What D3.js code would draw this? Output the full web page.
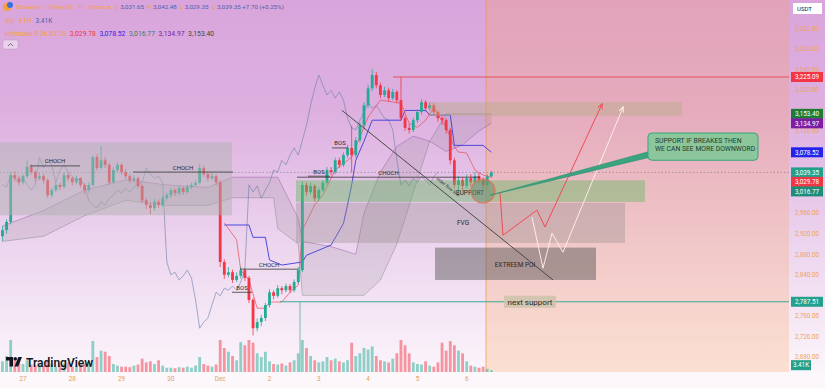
<!DOCTYPE html>
<html>
<head>
<meta charset="utf-8">
<script src="https://cdn.jsdelivr.net/npm/d3@7"></script>
<style>
html, body { margin: 0; padding: 0; background: #faf5fa; }
svg { display: block; font-family: Roboto, "Noto Sans", sans-serif; }
</style>
</head>
<body>
<div id="chart"></div>
<script>
// ---- data ----
// 2h candles, first one Nov 26 14:00
var candleStart = new Date(2025, 10, 26, 14);
// [open, high, low, close]
var ohlc = [
  [2915,2935,2905,2927],[2927,2948,2920,2943],[2943,3040,2938,3034],[3034,3041,3022,3028],[3028,3033,3014,3020],
  [3020,3036,3016,3032],[3032,3062,3028,3050],[3050,3055,3035,3040],[3040,3044,3022,3028],[3028,3038,3024,3032],
  [3032,3036,3018,3024],[3024,3028,2990,2995],[2995,3010,2991,3005],[3005,3020,3001,3015],[3015,3019,3005,3011],
  [3011,3040,3008,3034],[3034,3038,3022,3028],[3028,3031,3014,3020],[3020,3033,3016,3028],[3028,3030,3010,3015],
  [3015,3018,2998,3005],[3005,3020,3000,3015],[3015,3073,3012,3069],[3069,3075,3043,3048],[3048,3091,3045,3063],
  [3063,3070,3048,3054],[3054,3058,3015,3020],[3020,3050,3017,3044],[3044,3060,3040,3054],[3054,3057,3035,3040],
  [3040,3046,3027,3032],[3032,3036,3019,3024],[3024,3034,3020,3028],[3028,3031,3008,3013],[3013,3016,2980,2985],
  [2985,2990,2968,2976],[2976,2982,2958,2970],[2970,2988,2965,2982],[2982,2986,2970,2976],[2976,2994,2972,2989],
  [2989,3000,2984,2995],[2995,3010,2990,3005],[3005,3008,2993,2999],[2999,3014,2995,3009],[3009,3012,2996,3001],
  [3001,3016,2998,3011],[3011,3020,3007,3015],[3015,3024,3012,3019],[3019,3056,3016,3048],[3048,3052,3031,3036],
  [3036,3040,3022,3028],[3028,3038,3024,3032],[3032,3035,3015,3020],[3020,3024,2855,2865],[2865,2870,2832,2840],
  [2840,2855,2835,2845],[2845,2850,2824,2830],[2830,2845,2826,2838],[2838,2856,2833,2849],[2849,2852,2828,2834],
  [2834,2838,2785,2791],[2791,2795,2722,2736],[2736,2755,2730,2748],[2748,2762,2740,2756],[2756,2786,2750,2781],
  [2781,2812,2776,2806],[2806,2810,2792,2799],[2799,2820,2795,2814],[2814,2818,2802,2810],[2810,2823,2806,2818],
  [2818,2822,2804,2810],[2810,2831,2806,2826],[2826,2855,2822,2849],[2849,3022,2845,3015],[3015,3020,2994,3001],
  [3001,3019,2997,3013],[3013,3016,2982,2989],[2989,3010,2984,3005],[3005,3024,3001,3019],[3019,3050,3015,3044],
  [3044,3050,3034,3040],[3040,3068,3036,3063],[3063,3068,3048,3054],[3054,3078,3050,3073],[3073,3093,3068,3087],
  [3087,3130,3040,3073],[3073,3108,3068,3102],[3102,3137,3098,3131],[3131,3176,3126,3170],[3170,3210,3165,3203],
  [3203,3240,3198,3229],[3229,3235,3203,3209],[3209,3214,3184,3190],[3190,3206,3186,3199],[3199,3204,3178,3184],
  [3184,3202,3180,3196],[3196,3200,3174,3180],[3180,3225,3140,3145],[3145,3150,3120,3126],[3126,3134,3115,3122],
  [3122,3146,3118,3141],[3141,3162,3136,3157],[3157,3182,3152,3176],[3176,3180,3158,3164],[3164,3176,3160,3170],
  [3170,3174,3150,3157],[3157,3160,3138,3145],[3145,3150,3132,3141],[3141,3145,3115,3122],[3122,3126,3055,3063],
  [3063,3068,3008,3015],[3015,3032,3000,3024],[3024,3030,3004,3013],[3013,3035,3008,3028],[3028,3036,3012,3020],
  [3020,3040,3016,3032],[3032,3038,3018,3024],[3024,3030,3008,3015],[3015,3036,3012,3031.65],[3031.65,3042.48,3029.35,3039.35]
];
// volume in K
var volumes = [
  20,30,60,25,18,15,22,14,12,15, 12,20,14,10,12,16,18,10,12,14,
  15,18,58,28,40,38,30,15,12,10, 10,9,12,14,25,18,20,15,22,12,
  8,8,7,9,8,10,8,12,28,15, 12,10,14,60,45,38,30,22,56,50,
  60,55,35,28,38,20,15,14,16,12, 18,22,35,60,45,30,22,18,20,28,
  22,25,20,18,22,55,30,35,45,42, 48,30,22,20,18,25,35,60,50,35,
  18,15,14,20,12,10,18,55,40,58, 50,40,35,20,12,10,8,10,6,3.41
];

// ichimoku lines, [candle index, price]
var tenkan = [[54,2941],[57,2908],[58,2849],[60,2830],[62,2775],[64,2775],[65,2787],[68,2787],[70,2806],[72,2820],
  [73,2927],[76,2976],[78,2995],[81,3044],[85,3069],[87,3108],[89,3147],[92,3180],[97,3174],[99,3135],[101,3127],
  [103,3141],[105,3166],[108,3127],[110,3089],[111,3079],[113,3077],[115,3044],[117,3034],[119,3029.78]];
var kijun = [[54,2937],[60,2937],[61,2913],[64,2913],[65,2869],[68,2859],[73,2865],[74,2878],[80,2898],[83,2940],
  [84,2976],[85,3015],[86,3063],[88,3100],[90,3141],[97,3141],[98,3160],[103,3160],[104,3151],[109,3151],[110,3092],
  [117,3092],[119,3078.52]];
var cloudIdx = [0,10,20,30,40,50,56,66,67,72,73,80,86,88,92,96,100,104,108,112,116,119];
var spanA = [2935,2965,3005,3025,3015,3010,3030,3030,3030,2950,2905,2895,2880,2960,3040,3090,3110,3100,3080,3093,3120,3134.97];
var spanB = [2905,2915,2955,2985,2975,2975,2990,2990,2930,2900,2800,2800,2800,2800,2830,2900,3000,3100,3153.4,3153.4,3153.4,3153.4];
var laggingShift = 13;

// drawings
var zoneNames = ["range", "top", "green", "fvg", "poi"];
var zoneT0 = ["2025-11-26T08:00","2025-12-05T06:00","2025-12-02T12:54","2025-12-02T12:54","2025-12-05T08:34"];
var zoneT1 = ["2025-12-01T05:44","2025-12-10T08:49","2025-12-09T14:48","2025-12-09T05:04","2025-12-08T14:57"];
var zoneTop = [3098, 3176, 3024, 2980, 2893];
var zoneBottom = [2956, 3149, 2982, 2902, 2830];

var structLabels = ["CHOCH","CHOCH","BOS","CHOCH","BOS","BOS","CHOCH"];
var structT0 = ["2025-11-27T03:24","2025-11-29T05:33","2025-12-01T05:44","2025-12-01T09:39","2025-12-02T18:44","2025-12-03T06:26","2025-12-02T13:23"];
var structT1 = ["2025-11-28T03:45","2025-12-01T06:14","2025-12-01T15:29","2025-12-02T13:52","2025-12-03T05:27","2025-12-03T14:13","2025-12-06T06:29"];
var structPrice = [3052, 3040, 2806, 2851, 3032, 3087, 3030];

var resistance = {t0: "2025-12-04T12:07", price: 3225.09};
var nextSupport = {t0: "2025-12-02T05:07", tVert: "2025-12-02T14:51", price: 2787.51};
var trendLine = [["2025-12-03T11:18", 3160], ["2025-12-07T18:01", 2830]];
var redPath = [["2025-12-06T16:12",3001],["2025-12-06T17:40",2917],["2025-12-07T10:13",2966],["2025-12-07T14:07",2933],["2025-12-08T17:51",3172]];
var whitePath = [["2025-12-07T07:48",2952],["2025-12-07T13:09",2853],["2025-12-07T17:31",2921],["2025-12-07T22:52",2884],["2025-12-09T04:05",3166]];
var callout = {t0: "2025-12-09T16:15", t1: "2025-12-11T21:49", top: 3116, bottom: 3063,
  from: ["2025-12-06T11:21", 2995], lines: ["SUPPORT IF BREAKES THEN", "WE CAN SEE MORE DOWNWORD"]};
var supportCircle = ["2025-12-06T07:57", 3003];
var futureStart = "2025-12-06T09:24";
var textNotes = [
  ["FVG", "2025-12-05T22:12", 2941],
  ["EXTREEM POI", "2025-12-06T23:31", 2861],
  ["SUPPORT", "2025-12-06T01:36", 3001]
];

var priceTicks = d3.range(2680, 3321, 40);
var dayTicks = ["2025-11-27","2025-11-28","2025-11-29","2025-11-30","2025-12-01","2025-12-02","2025-12-03","2025-12-04","2025-12-05","2025-12-06"];
var dayLabels = ["27","28","29","30","Dec","2","3","4","5","6"];
var tagValues = [3225.09, 3153.40, 3134.97, 3078.52, 3039.35, 3029.78, 3016.77, 2787.51];
var tagColors = ["#f23645", "#1e7d32", "#7b1fa2", "#2424e8", "#22a08a", "#f23645", "#1f8c78", "#23a18c"];
var lastVolume = 3.41;

// ---- setup ----
var W = 825, H = 388, plotR = 789, plotB = 372;
var parse = function(s){ return new Date(s); };
var candleTime = function(i){ return d3.timeHour.offset(candleStart, 2*i); };

var x = d3.scaleTime()
    .domain([new Date(2025,10,27), new Date(2025,11,6)])
    .range([23, 466.7]);
var y = d3.scaleLinear().domain([2680, 3225.09]).range([357, 77]);
var yVol = d3.scaleLinear().domain([0, 60]).range([plotB, 340]);
var fmt = d3.format(",.2f");

var svg = d3.select("#chart").append("svg")
    .attr("width", W).attr("height", H);

var defs = svg.append("defs");
var grad = defs.append("linearGradient").attr("id","bg")
    .attr("x1",0).attr("y1",0).attr("x2",0).attr("y2",1);
grad.append("stop").attr("offset","0%").attr("stop-color","#d9a5dc");
grad.append("stop").attr("offset","30%").attr("stop-color","#ddb0e0");
grad.append("stop").attr("offset","65%").attr("stop-color","#ecd4ee");
grad.append("stop").attr("offset","100%").attr("stop-color","#fbf5fb");
defs.append("clipPath").attr("id","plot")
  .append("rect").attr("x",0).attr("y",0).attr("width",plotR).attr("height",plotB);

svg.append("rect").attr("width",W).attr("height",plotB).attr("fill","url(#bg)");
svg.append("rect").attr("y",plotB).attr("width",W).attr("height",H-plotB).attr("fill","#fbf7fb");

var g = svg.append("g").attr("clip-path","url(#plot)");

// future (orange) area
g.append("rect")
  .attr("x", x(parse(futureStart))).attr("y",0)
  .attr("width", plotR - x(parse(futureStart))).attr("height", plotB)
  .attr("fill","rgba(255,160,80,0.24)");
g.append("line")
  .attr("x1", x(parse(futureStart))).attr("x2", x(parse(futureStart)))
  .attr("y1",0).attr("y2",plotB)
  .attr("stroke","rgba(240,150,70,0.7)").attr("stroke-width",1);

// volume
g.selectAll(".vol").data(volumes).enter().append("rect")
  .attr("x", function(d,i){ return x(candleTime(i)) - 1.4; })
  .attr("y", function(d){ return yVol(d); })
  .attr("width", 2.8)
  .attr("height", function(d){ return plotB - yVol(d); })
  .attr("fill", function(d,i){ return ohlc[i][3] >= ohlc[i][0] ? "rgba(34,171,148,0.5)" : "rgba(242,54,69,0.5)"; });

// cloud
var cloud = cloudIdx.map(function(k,j){ return {t: candleTime(k), a: spanA[j], b: spanB[j]}; });
g.append("path").datum(cloud)
  .attr("d", d3.area().x(function(d){ return x(d.t); })
    .y0(function(d){ return y(d.a); }).y1(function(d){ return y(d.b); }))
  .attr("fill","rgba(120,115,120,0.15)");
g.append("path").datum(cloud)
  .attr("d", d3.line().x(function(d){ return x(d.t); }).y(function(d){ return y(d.a); }))
  .attr("fill","none").attr("stroke","rgba(140,70,160,0.5)").attr("stroke-width",0.8);
g.append("path").datum(cloud)
  .attr("d", d3.line().x(function(d){ return x(d.t); }).y(function(d){ return y(d.b); }))
  .attr("fill","none").attr("stroke","rgba(90,100,90,0.4)").attr("stroke-width",0.8);

// lagging span = closes moved back
var lag = ohlc.slice(laggingShift).map(function(d,i){ return [i, d[3]]; });
var idxLine = d3.line().x(function(d){ return x(candleTime(d[0])); }).y(function(d){ return y(d[1]); });
g.append("path").datum(lag).attr("d", idxLine)
  .attr("fill","none").attr("stroke","rgba(105,125,165,0.75)").attr("stroke-width",0.8);
g.append("path").datum(kijun).attr("d", idxLine)
  .attr("fill","none").attr("stroke","#3b3bd8").attr("stroke-width",0.9);
g.append("path").datum(tenkan).attr("d", idxLine)
  .attr("fill","none").attr("stroke","rgba(235,70,80,0.85)").attr("stroke-width",0.8);

// candles
var c = g.selectAll(".candle").data(ohlc).enter().append("g");
c.append("line")
  .attr("x1", function(d,i){ return x(candleTime(i)); })
  .attr("x2", function(d,i){ return x(candleTime(i)); })
  .attr("y1", function(d){ return y(d[1]); })
  .attr("y2", function(d){ return y(d[2]); })
  .attr("stroke", function(d){ return d[3] >= d[0] ? "#22ab94" : "#f23645"; })
  .attr("stroke-width", 0.8);
c.append("rect")
  .attr("x", function(d,i){ return x(candleTime(i)) - 1.4; })
  .attr("y", function(d){ return y(Math.max(d[0], d[3])); })
  .attr("width", 2.8)
  .attr("height", function(d){ return Math.max(0.8, Math.abs(y(d[0]) - y(d[3]))); })
  .attr("fill", function(d){ return d[3] >= d[0] ? "#22ab94" : "#f23645"; });

// last price dotted line
var last = ohlc[ohlc.length-1][3];
g.append("line").attr("x1",0).attr("x2",plotR).attr("y1",y(last)).attr("y2",y(last))
  .attr("stroke","rgba(90,90,110,0.55)").attr("stroke-width",0.8).attr("stroke-dasharray","1.5,2");

// zones
var zoneFill = {
  range: "rgba(178,178,178,0.5)",
  top: "rgba(185,170,135,0.45)",
  green: "rgba(105,185,100,0.45)",
  fvg: "rgba(150,140,140,0.35)",
  poi: "rgba(80,80,80,0.45)"
};
zoneNames.forEach(function(n,j){
  g.append("rect")
    .attr("x", x(parse(zoneT0[j])))
    .attr("y", y(zoneTop[j]))
    .attr("width", x(parse(zoneT1[j])) - x(parse(zoneT0[j])))
    .attr("height", y(zoneBottom[j]) - y(zoneTop[j]))
    .attr("fill", zoneFill[n]);
});

// structure lines (CHOCH / BOS)
structLabels.forEach(function(l,j){
  var x0 = x(parse(structT0[j])), x1 = x(parse(structT1[j])), yy = y(structPrice[j]);
  g.append("line").attr("x1",x0).attr("x2",x1).attr("y1",yy).attr("y2",yy)
    .attr("stroke","#3a3a3a").attr("stroke-width",0.8);
  g.append("text").attr("x",(x0+x1)/2).attr("y",yy-2.5)
    .attr("text-anchor","middle").attr("font-size",6).attr("fill","#2a2a2a").text(l);
});

// resistance / next support
g.append("line").attr("x1",x(parse(resistance.t0))).attr("x2",plotR)
  .attr("y1",y(resistance.price)).attr("y2",y(resistance.price))
  .attr("stroke","#e8505a").attr("stroke-width",1);
g.append("line").attr("x1",x(parse(nextSupport.t0))).attr("x2",plotR)
  .attr("y1",y(nextSupport.price)).attr("y2",y(nextSupport.price))
  .attr("stroke","#3aa896").attr("stroke-width",1.2);
g.append("line").attr("x1",x(parse(nextSupport.tVert))).attr("x2",x(parse(nextSupport.tVert)))
  .attr("y1",y(nextSupport.price)).attr("y2",plotB)
  .attr("stroke","rgba(58,168,150,0.7)").attr("stroke-width",1);
var nsx = x(parse("2025-12-07T06:49"));
g.append("rect").attr("x",nsx-26).attr("y",y(nextSupport.price)-6).attr("width",52).attr("height",12)
  .attr("fill","rgba(205,195,170,0.85)");
g.append("text").attr("x",nsx).attr("y",y(nextSupport.price)+3)
  .attr("text-anchor","middle").attr("font-size",8).attr("fill","#2a2a2a").text("next support");

// trend line
var pxy = function(p){ return [x(parse(p[0])), y(p[1])]; };
var tl = trendLine.map(pxy);
g.append("line").attr("x1",tl[0][0]).attr("y1",tl[0][1]).attr("x2",tl[1][0]).attr("y2",tl[1][1])
  .attr("stroke","#4a4a4a").attr("stroke-width",1);
var ang = Math.atan2(tl[1][1]-tl[0][1], tl[1][0]-tl[0][0]) * 180 / Math.PI;
var tlx = x(parse("2025-12-05T14:24")), tly = y(3009);
g.append("text").attr("transform","translate("+tlx+","+tly+") rotate("+ang+")")
  .attr("text-anchor","middle").attr("font-size",4.5).attr("fill","#333").text("order flow line");

// notes
textNotes.forEach(function(t){
  g.append("text").attr("x", x(parse(t[1]))).attr("y", y(t[2])+2.5)
    .attr("text-anchor","middle").attr("font-size",6.5).attr("fill","#2a2a2a").text(t[0]);
});

// support circle
var sc = pxy(supportCircle);
g.append("circle").attr("cx",sc[0]).attr("cy",sc[1]).attr("r",12)
  .attr("fill","rgba(110,135,110,0.5)").attr("stroke","rgba(235,110,80,0.85)").attr("stroke-width",1.2);

// projection arrows
defs.append("marker").attr("id","arR").attr("viewBox","0 0 10 10").attr("refX",8).attr("refY",5)
  .attr("markerWidth",6).attr("markerHeight",6).attr("orient","auto")
  .append("path").attr("d","M0,1 L9,5 L0,9").attr("fill","none").attr("stroke","#f04a55").attr("stroke-width",1.5);
defs.append("marker").attr("id","arW").attr("viewBox","0 0 10 10").attr("refX",8).attr("refY",5)
  .attr("markerWidth",6).attr("markerHeight",6).attr("orient","auto")
  .append("path").attr("d","M0,1 L9,5 L0,9").attr("fill","none").attr("stroke","#fff4ec").attr("stroke-width",1.5);
var pLine = d3.line();
g.append("path").attr("d", pLine(redPath.map(pxy))).attr("fill","none")
  .attr("stroke","#f04a55").attr("stroke-width",1).attr("marker-end","url(#arR)");
g.append("path").attr("d", pLine(whitePath.map(pxy))).attr("fill","none")
  .attr("stroke","rgba(255,244,236,0.9)").attr("stroke-width",1).attr("marker-end","url(#arW)");

// callout
var cx0 = x(parse(callout.t0)), cx1 = x(parse(callout.t1));
var cy0 = y(callout.top), cy1 = y(callout.bottom);
var cf = pxy(callout.from);
g.append("path")
  .attr("d","M"+cf[0]+","+cf[1]+" L"+(cx0+2)+","+(cy1-9)+" L"+(cx0+2)+","+(cy1-3)+" Z")
  .attr("fill","#3aa37f").attr("stroke","#2f9070").attr("stroke-width",0.6);
g.append("rect").attr("x",cx0).attr("y",cy0).attr("width",cx1-cx0).attr("height",cy1-cy0)
  .attr("rx",4).attr("fill","#8cc79c").attr("stroke","#3aa37f").attr("stroke-width",1);
callout.lines.forEach(function(l,j){
  g.append("text").attr("x",cx0+7).attr("y",cy0+10+j*8)
    .attr("font-size",6.8).attr("fill","#1d3b2c").text(l);
});

// ---- price axis ----
var tagY = tagValues.map(function(v){ return y(v); });
for (var k = 1; k < tagY.length; k++) {
  if (tagY[k] < tagY[k-1] + 9.5) tagY[k] = tagY[k-1] + 9.5;
}
var volTagY = yVol(lastVolume) - 5;
var busy = tagY.concat([volTagY]);
priceTicks.forEach(function(p){
  var yy = y(p);
  var hidden = busy.some(function(t){ return Math.abs(t - yy) < 7; });
  if (hidden || yy < 8) return;
  svg.append("text").attr("x",807).attr("y",yy+2.3).attr("text-anchor","middle")
    .attr("font-size",6.3).attr("fill","#eea457").text(fmt(p));
});
tagValues.forEach(function(v,j){
  svg.append("rect").attr("x",791).attr("y",tagY[j]-5).attr("width",32).attr("height",10)
    .attr("fill",tagColors[j]);
  svg.append("text").attr("x",807).attr("y",tagY[j]+2.3).attr("text-anchor","middle")
    .attr("font-size",6.3).attr("fill","#fff").text(fmt(v));
});
svg.append("rect").attr("x",791).attr("y",volTagY-5).attr("width",20).attr("height",10).attr("fill","#22a08a");
svg.append("text").attr("x",801).attr("y",volTagY+2.3).attr("text-anchor","middle")
  .attr("font-size",6.3).attr("fill","#fff").text(lastVolume + "K");
svg.append("rect").attr("x",793).attr("y",3).attr("width",29).attr("height",11).attr("fill","#fff");
svg.append("text").attr("x",797).attr("y",10.5).attr("font-size",6).attr("fill","#222").text("USDT");

// ---- time axis ----
dayTicks.forEach(function(d,j){
  svg.append("text").attr("x", x(new Date(d+"T00:00"))).attr("y", 381)
    .attr("text-anchor","middle").attr("font-size",6.3).attr("fill","#e6a052").text(dayLabels[j]);
});

// ---- legend ----
var lg = svg.append("g");
lg.append("circle").attr("cx",7).attr("cy",7).attr("r",4).attr("fill","#f5a03c");
lg.append("circle").attr("cx",10).attr("cy",5).attr("r",3).attr("fill","#3a6fd8");
var row1 = lg.append("text").attr("x",16).attr("y",9).attr("font-size",6.2);
[["Ethereum / TetherUS · 1h · Binance","#f5a03c"],["  O ","#f5a03c"],["3,031.65","#4c5fa8"],["  H ","#f5a03c"],["3,042.48","#4c5fa8"],
 ["  L ","#f5a03c"],["3,029.35","#4c5fa8"],["  C ","#f5a03c"],["3,039.35","#4c5fa8"],[" +7.70 (+0.25%)","#4c5fa8"]]
  .forEach(function(s){ row1.append("tspan").attr("fill",s[1]).attr("xml:space","preserve").text(s[0]); });
var row2 = lg.append("text").attr("x",5).attr("y",23).attr("font-size",6.5);
row2.append("tspan").attr("fill","#f5a03c").text("Vol · ETH");
row2.append("tspan").attr("dx",4).attr("fill","#4c5fa8").text("3.41K");
var row3 = lg.append("text").attr("x",5).attr("y",36).attr("font-size",6.8);
row3.append("tspan").attr("fill","#f5a03c").text("Ichimoku 9 26 52 26");
[["3,029.78","#f23645"],["3,078.52","#2424e8"],["3,016.77","#3d7a70"],["3,134.97","#7b1fa2"],["3,153.40","#3a4a3a"]]
  .forEach(function(s){ row3.append("tspan").attr("dx",3.5).attr("fill",s[1]).text(s[0]); });
lg.append("rect").attr("x",3).attr("y",40).attr("width",15).attr("height",9).attr("rx",1.5)
  .attr("fill","rgba(255,255,255,0.45)").attr("stroke","rgba(150,150,170,0.6)").attr("stroke-width",0.6);
lg.append("path").attr("d","M8,46 L10.5,43.5 L13,46").attr("fill","none").attr("stroke","#555").attr("stroke-width",0.8);

// ---- TradingView mark ----
var tv = svg.append("g").attr("transform","translate(6,357)");
tv.append("path").attr("d","M0,0 H7 V9.5 H3.5 V3.5 H0 Z").attr("fill","#131722");
tv.append("circle").attr("cx",9.3).attr("cy",1.8).attr("r",1.8).attr("fill","#131722");
tv.append("path").attr("d","M12.3,0 H16 L12.2,9.5 H8.5 Z").attr("fill","#131722");
tv.append("text").attr("x",20).attr("y",9.5).attr("font-size",12).attr("font-weight","600")
  .attr("fill","#131722").text("TradingView");
</script>
</body>
</html>
